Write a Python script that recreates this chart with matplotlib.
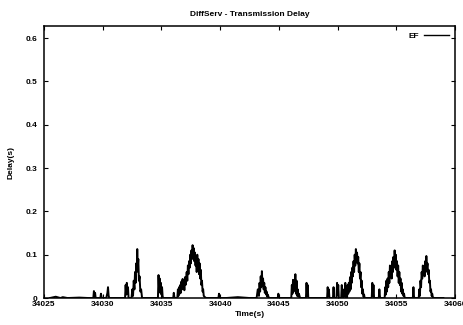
import matplotlib
matplotlib.use("Agg")
import matplotlib.pyplot as plt

# Delay samples (time in s, delay in s)
time_s = [
    34025.5, 34026.0, 34026.4, 34026.6, 34027.0, 34028.0, 34028.8, 34029.2,
    34029.25, 34029.3, 34029.35, 34029.4, 34029.8, 34029.85, 34029.9, 34029.95,
    34030.3, 34030.4, 34030.45, 34030.5, 34030.55, 34031.0,
    34031.9, 34031.95, 34032.0, 34032.05, 34032.1, 34032.15, 34032.2,
    34032.45, 34032.52, 34032.58, 34032.64, 34032.7, 34032.75, 34032.8, 34032.85,
    34032.9, 34032.94, 34032.98, 34033.03, 34033.08, 34033.14, 34033.2, 34033.27, 34033.35,
    34033.8, 34034.3, 34034.7, 34034.75, 34034.8, 34034.85, 34034.9, 34034.95, 34035.0,
    34035.05, 34035.1, 34035.15, 34035.6, 34036.0, 34036.05, 34036.1, 34036.15,
    34036.35, 34036.4, 34036.45, 34036.5, 34036.55, 34036.6, 34036.65, 34036.7,
    34036.75, 34036.8, 34036.85, 34036.9, 34036.95, 34037.0, 34037.05, 34037.1,
    34037.15, 34037.2, 34037.25, 34037.3, 34037.35, 34037.4, 34037.45, 34037.5,
    34037.55, 34037.6, 34037.65, 34037.7, 34037.75, 34037.8, 34037.85, 34037.9,
    34037.95, 34038.0, 34038.05, 34038.1, 34038.15, 34038.2, 34038.25, 34038.3,
    34038.35, 34038.4, 34038.45, 34038.5, 34038.55, 34038.6, 34038.7, 34038.8,
    34039.5, 34039.85, 34039.9, 34039.95, 34040.5, 34041.5, 34042.5, 34043.1,
    34043.2, 34043.3, 34043.35, 34043.4, 34043.45, 34043.5, 34043.55, 34043.6,
    34043.65, 34043.7, 34043.75, 34043.8, 34043.85, 34043.9, 34043.95, 34044.0,
    34044.05, 34044.15, 34044.5, 34044.9, 34044.95, 34045.0, 34045.6,
    34046.05, 34046.1, 34046.15, 34046.2, 34046.25, 34046.3, 34046.35, 34046.4,
    34046.45, 34046.5, 34046.55, 34046.6, 34046.65, 34046.7, 34046.8,
    34047.3, 34047.35, 34047.4, 34047.45, 34047.5, 34048.2, 34048.6,
    34049.1, 34049.15, 34049.2, 34049.25, 34049.3, 34049.6, 34049.65, 34049.7,
    34049.9, 34049.95, 34050.0, 34050.05, 34050.1, 34050.3, 34050.35, 34050.4,
    34050.5, 34050.55, 34050.6, 34050.65, 34050.7, 34050.8, 34050.85, 34050.9,
    34050.95, 34051.0, 34051.05, 34051.1, 34051.15, 34051.2, 34051.25, 34051.3,
    34051.35, 34051.4, 34051.45, 34051.5, 34051.55, 34051.6, 34051.65, 34051.7,
    34051.75, 34051.8, 34051.85, 34051.9, 34051.95, 34052.0, 34052.05, 34052.1,
    34052.15, 34052.2, 34052.25, 34052.3, 34052.4, 34052.9, 34052.95, 34053.0,
    34053.05, 34053.1, 34053.5, 34053.55, 34053.6, 34053.65, 34054.0, 34054.05,
    34054.1, 34054.15, 34054.2, 34054.25, 34054.3, 34054.35, 34054.4, 34054.45,
    34054.5, 34054.55, 34054.6, 34054.65, 34054.7, 34054.75, 34054.8, 34054.85,
    34054.9, 34054.95, 34055.0, 34055.05, 34055.1, 34055.15, 34055.2, 34055.25,
    34055.3, 34055.35, 34055.4, 34055.45, 34055.5, 34055.55, 34055.6, 34055.65,
    34055.7, 34055.75, 34055.8, 34055.9, 34056.4, 34056.45, 34056.5, 34056.55,
    34056.9, 34056.95, 34057.0, 34057.05, 34057.1, 34057.15, 34057.2, 34057.25,
    34057.3, 34057.35, 34057.4, 34057.45, 34057.5, 34057.55, 34057.6, 34057.65,
    34057.7, 34057.75, 34057.8, 34057.85, 34057.9, 34057.95, 34058.0, 34058.05,
    34058.1, 34058.2, 34058.5, 34059.0,
]
delay_s = [
    0.0, 0.003, 0.0, 0.002, 0.0, 0.001, 0.0, 0.0,
    0.016, 0.003, 0.012, 0.0, 0.0, 0.01, 0.002, 0.0,
    0.0, 0.012, 0.025, 0.006, 0.0, 0.0,
    0.0, 0.03, 0.008, 0.035, 0.01, 0.025, 0.0,
    0.0, 0.02, 0.005, 0.04, 0.02, 0.06, 0.035, 0.08,
    0.06, 0.113, 0.07, 0.09, 0.04, 0.05, 0.015, 0.02, 0.0,
    0.0, 0.0, 0.0, 0.053, 0.02, 0.045, 0.012, 0.035, 0.008,
    0.025, 0.004, 0.0, 0.0, 0.0, 0.012, 0.002, 0.0,
    0.0, 0.02, 0.005, 0.025, 0.01, 0.03, 0.012, 0.038,
    0.02, 0.044, 0.025, 0.04, 0.018, 0.048, 0.03, 0.045,
    0.06, 0.04, 0.075, 0.055, 0.085, 0.07, 0.1, 0.08,
    0.11, 0.09, 0.122, 0.1, 0.115, 0.085, 0.105, 0.075,
    0.095, 0.06, 0.1, 0.07, 0.09, 0.055, 0.08, 0.045,
    0.065, 0.03, 0.04, 0.015, 0.02, 0.005, 0.002, 0.0,
    0.0, 0.0, 0.01, 0.0, 0.0, 0.002, 0.0, 0.0,
    0.02, 0.005, 0.035, 0.015, 0.05, 0.025, 0.062, 0.03,
    0.045, 0.02, 0.035, 0.012, 0.025, 0.008, 0.015, 0.003,
    0.008, 0.0, 0.0, 0.0, 0.01, 0.0, 0.0,
    0.0, 0.03, 0.01, 0.042, 0.015, 0.035, 0.02, 0.055,
    0.01, 0.04, 0.005, 0.02, 0.003, 0.01, 0.0,
    0.0, 0.035, 0.005, 0.03, 0.0, 0.0, 0.0,
    0.0, 0.025, 0.005, 0.02, 0.0, 0.0, 0.025, 0.0,
    0.0, 0.035, 0.008, 0.03, 0.0, 0.0, 0.03, 0.0,
    0.0, 0.02, 0.004, 0.035, 0.0, 0.0, 0.03, 0.01,
    0.035, 0.015, 0.048, 0.02, 0.06, 0.035, 0.07, 0.05,
    0.085, 0.06, 0.1, 0.075, 0.113, 0.09, 0.105, 0.08,
    0.095, 0.06, 0.08, 0.045, 0.06, 0.025, 0.04, 0.01,
    0.02, 0.003, 0.008, 0.0, 0.0, 0.0, 0.035, 0.005,
    0.03, 0.0, 0.0, 0.02, 0.003, 0.0, 0.0, 0.025,
    0.008, 0.04, 0.015, 0.045, 0.025, 0.06, 0.035, 0.075,
    0.05, 0.07, 0.045, 0.085, 0.06, 0.095, 0.07, 0.11,
    0.08, 0.1, 0.065, 0.085, 0.05, 0.075, 0.035, 0.06,
    0.03, 0.045, 0.015, 0.035, 0.01, 0.02, 0.005, 0.01,
    0.002, 0.0, 0.0, 0.0, 0.0, 0.025, 0.003, 0.0,
    0.0, 0.02, 0.005, 0.04, 0.025, 0.06, 0.045, 0.075,
    0.055, 0.07, 0.05, 0.085, 0.06, 0.097, 0.07, 0.08,
    0.055, 0.065, 0.035, 0.04, 0.015, 0.02, 0.005, 0.01,
    0.002, 0.0, 0.0, 0.0,
]

x_ticks = [34025, 34030, 34035, 34040, 34045, 34050, 34055, 34060]
y_ticks = [0, 0.1, 0.2, 0.3, 0.4, 0.5, 0.6]
y_tick_labels = ["0", "0.1", "0.2", "0.3", "0.4", "0.5", "0.6"]

plt.rcParams['font.family'] = ['Liberation Sans', 'DejaVu Sans']
plt.rcParams['font.weight'] = 'bold'

fig = plt.figure(figsize=(4.63, 3.25), dpi=100)
ax = fig.add_axes([0.095, 0.083, 0.888, 0.837])

ax.plot(time_s, delay_s, color='black', linewidth=1.4, label='EF')

ax.set_xlim(34025, 34060)
ax.set_ylim(0, 0.628)
ax.set_xticks(x_ticks)
ax.set_xticklabels([str(v) for v in x_ticks])
ax.set_yticks(y_ticks)
ax.set_yticklabels(y_tick_labels)
ax.tick_params(direction='in', length=3, width=0.8, labelsize=6, top=True, right=True)
ax.tick_params(axis='x', pad=2.5)
ax.tick_params(axis='y', pad=5)
for sp in ax.spines.values():
    sp.set_linewidth(1.1)

ax.set_title('DiffServ - Transmission Delay', fontsize=6, fontweight='bold', pad=7)
ax.set_xlabel('Time(s)', fontsize=6, fontweight='bold', labelpad=2)
ax.set_ylabel('Delay(s)', fontsize=6, fontweight='bold', labelpad=8)

leg = ax.legend(loc='upper right', frameon=False, fontsize=6, handlelength=3,
                markerfirst=False, borderaxespad=0.3, handletextpad=0.6)
leg.get_lines()[0].set_linewidth(1.0)

fig.savefig('out.png', dpi=100)
